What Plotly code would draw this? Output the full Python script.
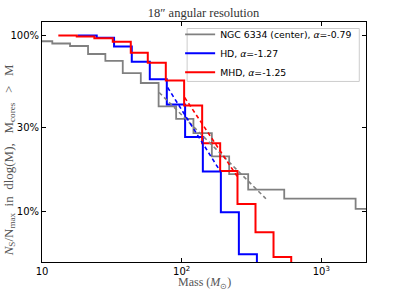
import plotly.graph_objects as go

# ---- data ----
# NGC 6334 (center): step edges (Msun) and levels (fraction)
ngc_edges = [8.2, 11.85, 15.88, 21.37, 28.43, 37.88, 51.0, 68.41, 91.34, 121.5, 164.6, 219.0, 299.7, 543.0, 1762, 2245]
ngc_levels = [0.928, 0.901, 0.872, 0.785, 0.718, 0.612, 0.537, 0.395, 0.336, 0.2786, 0.2054, 0.1628, 0.1328, 0.1181, 0.1033]

# HD
hd_edges = [18.03, 24.66, 32.82, 43.95, 59.16, 78.32, 105.9, 141.9, 191.0, 257.0, 346.0]
hd_levels = [1.0, 0.970, 0.866, 0.709, 0.565, 0.4055, 0.2644, 0.1688, 0.0987, 0.0570]

# MHD
mhd_edges = [13.09, 17.74, 23.71, 32.13, 43.23, 57.23, 77.03, 104.2, 140.3, 188.8, 251.2, 338.1, 455.1, 609.4]
mhd_levels = [1.0, 0.987, 0.965, 0.921, 0.798, 0.700, 0.555, 0.400, 0.2444, 0.1694, 0.110, 0.0760, 0.0550]

# power-law fits (two end points each)
ngc_fit_x = [69.0, 401.4]
ngc_fit_y = [0.4745, 0.118]
hd_fit_x = [79.4, 190.3]
hd_fit_y = [0.5064, 0.1677]
mhd_fit_x = [105.1, 249.9]
mhd_fit_y = [0.4443, 0.158]

names = ["NGC 6334 (center), <i>α</i>=-0.79", "HD, <i>α</i>=-1.27", "MHD, <i>α</i>=-1.25"]
colors = ["#808080", "#0000ff", "#ff0000"]

x_tickvals = [10, 100, 1000]
x_ticktext = ["10", "10<sup>2</sup>", "10<sup>3</sup>"]
y_tickvals = [0.1, 0.3, 1.0]
y_ticktext = ["10%", "30%", "100%"]

BOTTOM = 0.001  # below axis: last drop runs off the bottom


def step_xy(edges, levels, drop_to_bottom):
    xs = list(edges)
    ys = list(levels) + [levels[-1]]
    if drop_to_bottom:
        ys[-1] = BOTTOM
    return xs, ys


fig = go.Figure()

sx, sy = step_xy(ngc_edges, ngc_levels, False)
fig.add_trace(go.Scatter(x=sx, y=sy, mode="lines", line=dict(color=colors[0], width=1.8, shape="hv"),
                         name=names[0]))
sx, sy = step_xy(hd_edges, hd_levels, True)
fig.add_trace(go.Scatter(x=sx, y=sy, mode="lines", line=dict(color=colors[1], width=2, shape="hv"),
                         name=names[1]))
sx, sy = step_xy(mhd_edges, mhd_levels, True)
fig.add_trace(go.Scatter(x=sx, y=sy, mode="lines", line=dict(color=colors[2], width=2, shape="hv"),
                         name=names[2]))

for fx, fy, c in [(ngc_fit_x, ngc_fit_y, colors[0]), (hd_fit_x, hd_fit_y, colors[1]), (mhd_fit_x, mhd_fit_y, colors[2])]:
    fig.add_trace(go.Scatter(x=fx, y=fy, mode="lines", line=dict(color=c, width=1.6, dash="4px,3px"),
                             showlegend=False, hoverinfo="skip"))

axis_common = dict(showline=True, linecolor="black", linewidth=1, mirror="allticks", ticks="inside",
                   ticklen=4, tickcolor="black", showgrid=False, zeroline=False, automargin=False,
                   tickfont=dict(family="DejaVu Sans", size=10, color="black"))

fig.update_xaxes(type="log", range=[1, 3.3204], tickvals=x_tickvals, ticktext=x_ticktext, **axis_common)
fig.update_yaxes(type="log", range=[-1.288, 0.077], tickvals=y_tickvals, ticktext=y_ticktext, **axis_common)

ytitle = ("<i>N</i><sub>S</sub>/N<sub>max</sub>&nbsp; in&nbsp; dlog(M),&nbsp;&nbsp; "
          "M<sub>cores</sub>&nbsp;&nbsp; &gt; &nbsp;&nbsp;M")

PW, PH = 323.7, 240.2  # plot area size in px
fig.update_layout(
    width=407, height=290,
    margin=dict(l=42, r=41, t=22, b=28, autoexpand=False),
    plot_bgcolor="white", paper_bgcolor="white",
    title=dict(text="18″ angular resolution", x=0.5, xanchor="center", y=1 - 13 / 290, yanchor="middle",
               font=dict(family="Liberation Serif", size=12.5, color="#333333")),
    legend=dict(x=(180 - 42) / PW, y=(261.7 - 19.3) / PH, xanchor="left", yanchor="top",
                bgcolor="rgba(0,0,0,0)", borderwidth=0,
                font=dict(family="DejaVu Sans", size=9.3, color="black"),
                tracegroupgap=0, itemwidth=30),
    showlegend=True,
    shapes=[
        dict(type="rect", xref="paper", yref="paper", layer="above",
             x0=(187 - 42) / PW, x1=(359 - 42) / PW, y0=(261.7 - 81) / PH, y1=(261.7 - 28) / PH,
             fillcolor="rgba(255,255,255,0.85)", line=dict(color="#cccccc", width=1)),
    ],
    annotations=[
        dict(text="Mass (<i>M</i><sub>⊙</sub>)", xref="paper", yref="paper", x=0.5, y=-(283 - 261.7) / PH,
             xanchor="center", yanchor="middle", showarrow=False,
             font=dict(family="Liberation Serif", size=12, color="#555555")),
        dict(text=ytitle, xref="paper", yref="paper",
             x=-(42 - 9) / PW, y=(261.7 - 160) / PH, xanchor="center", yanchor="middle", textangle=-90,
             showarrow=False, font=dict(family="Liberation Serif", size=13, color="#555555")),
    ],
)

fig.write_html("out.html", config={"displayModeBar": False},
               post_script="document.body.style.margin='0px';document.body.style.padding='0px';")
